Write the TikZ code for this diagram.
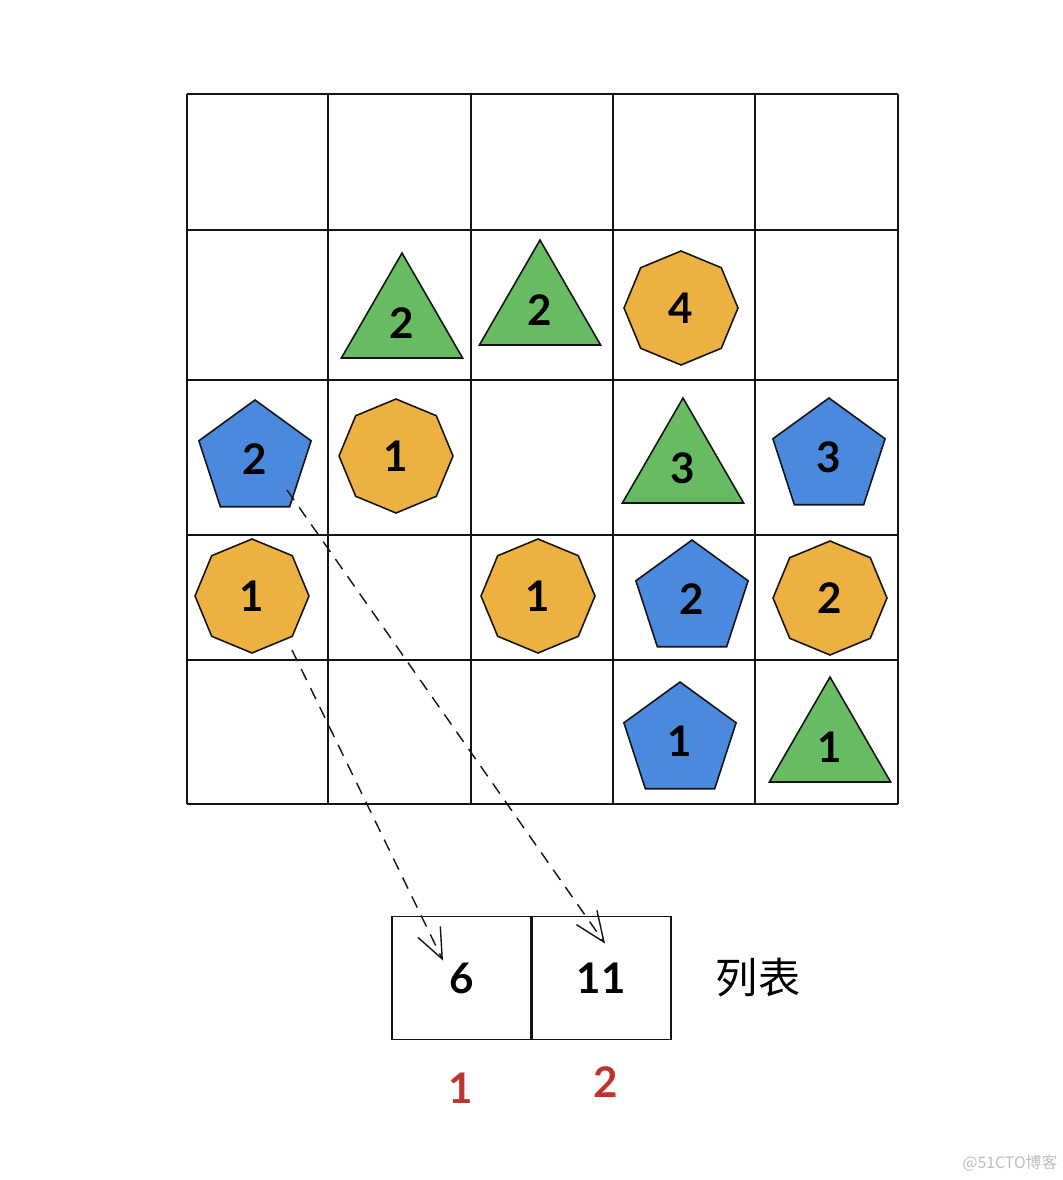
\documentclass[tikz,border=0pt]{standalone}
\usepackage{fontspec}
\setmainfont{Lato}
\newfontfamily\cjkfont{Noto Sans CJK SC}
\usetikzlibrary{
  shapes.geometric,
  arrows.meta
}
\definecolor{bluecolor}{RGB}{74, 137, 222}
\definecolor{greencolor}{RGB}{103, 187, 98}
\definecolor{orangecolor}{RGB}{237, 177, 66}
\definecolor{linecolor}{RGB}{20, 20, 20}
\definecolor{indexcolor}{RGB}{192, 52, 46}
\definecolor{markcolor}{RGB}{190, 190, 190}
\tikzset{
digittext/.style={
  font=\fontsize{24}{28}\selectfont\bfseries,
  text=black
},
shapebase/.style={
  regular polygon,
  draw=linecolor,
  line width=0.9pt,
  inner sep=0pt,
  digittext
},
tri/.style={
  shapebase,
  regular polygon sides=3,
  minimum size=2.8cm,
  fill=greencolor
},
penta/.style={
  shapebase,
  regular polygon sides=5,
  minimum size=2.36cm,
  fill=bluecolor
},
octa/.style={
  shapebase,
  regular polygon sides=8,
  shape border rotate=22.5,
  minimum size=2.28cm,
  fill=orangecolor
},
gridline/.style={
  draw=linecolor,
  line width=1.1pt
},
cell/.style={
  draw=linecolor,
  line width=1.1pt,
  minimum width=2.8cm,
  minimum height=2.46cm,
  inner sep=0pt,
  digittext
},
idxlabel/.style={
  font=\fontsize{24}{28}\selectfont\bfseries,
  text=indexcolor
},
linkarrow/.style={
  -{Straight Barb[length=6mm,width=5mm]},
  dash pattern=on 7pt off 5pt,
  line width=0.8pt,
  draw=linecolor
}
}

\begin{document}
\begin{tikzpicture}[x=0.02cm, y=-0.02cm]
  \useasboundingbox (0,0) rectangle (1062,1180);

  % grid
  \foreach \gx in {187,328,471,613,755,898}
    \draw[gridline] (\gx,94) -- (\gx,804);
  \foreach \gy in {94,230,380,535,660,804}
    \draw[gridline] (187,\gy) -- (898,\gy);

  % row 2
  \node[tri] (triA) at (402,323) {2};
  \node[tri] (triB) at (540,310) {2};
  \node[octa] (octA) at (681,308) {4};
  % row 3
  \node[penta] (pentA) at (255,459) {2};
  \node[octa] (octB) at (396,456) {1};
  \node[tri] (triC) at (683,468) {3};
  \node[penta] (pentB) at (829,457) {3};
  % row 4
  \node[octa] (octC) at (252,596) {1};
  \node[octa] (octD) at (538,596) {1};
  \node[penta] (pentC) at (692,599) {2};
  \node[octa] (octE) at (830,598) {2};
  % row 5
  \node[penta] (pentD) at (680,741) {1};
  \node[tri] (triD) at (830,747) {1};

  % list
  \node[cell] (cellone) at (462,978) {6};
  \node[cell] (celltwo) at (601,978) {11};
  \node[font=\cjkfont\fontsize{24}{28}\selectfont] (listname) at (758,978) {列表};
  \node[idxlabel] (idxone) at (461,1088) {1};
  \node[idxlabel] (idxtwo) at (606,1082) {2};

  \draw[linkarrow] ([shift={(32,31)}]pentA.center) -- ([shift={(4,28)}]celltwo.north);
  \draw[linkarrow] ([shift={(40,54)}]octC.center) -- ([shift={(-19,45)}]cellone.north);

  \node[font=\cjkfont\fontsize{9}{10}\selectfont, text=markcolor] (mark) at (1010,1163) {@51CTO博客};
\end{tikzpicture}
\end{document}
